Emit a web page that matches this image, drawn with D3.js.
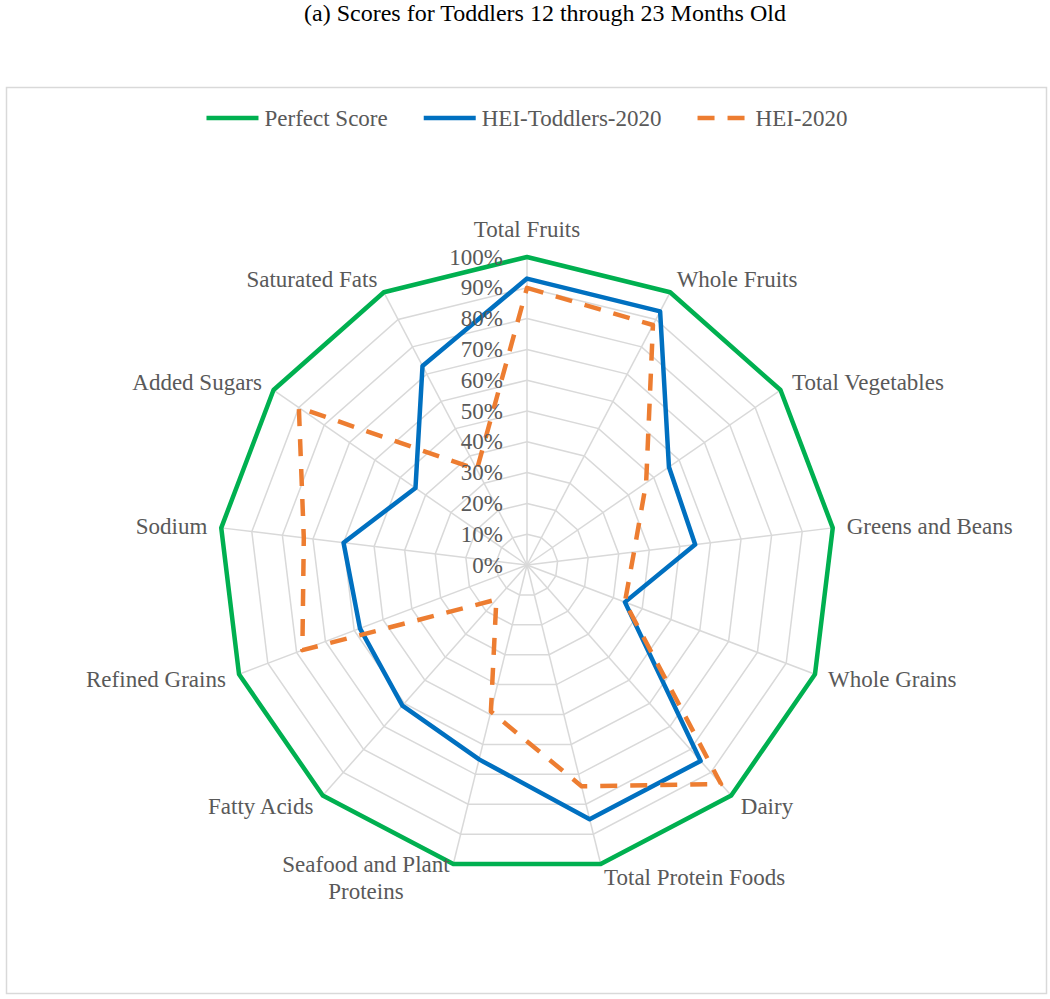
<!DOCTYPE html>
<html>
<head>
<meta charset="utf-8">
<script src="https://cdn.jsdelivr.net/npm/d3@7"></script>
<style>
  body { margin: 0; background: #fff; }
</style>
</head>
<body>
<script>
'use strict';

// categories, clockwise from the top
var categories = ['Total Fruits', 'Whole Fruits', 'Total Vegetables', 'Greens and Beans',
    'Whole Grains', 'Dairy', 'Total Protein Foods', 'Seafood and Plant Proteins',
    'Fatty Acids', 'Refined Grains', 'Sodium', 'Added Sugars', 'Saturated Fats'];

// scores in percent of the maximum
var perfectScore = [100, 100, 100, 100, 100, 100, 100, 100, 100, 100, 100, 100, 100];
var heiToddlers = [93, 93, 56, 55, 34, 85, 85, 65, 61, 58, 60, 44, 73];
var hei2020 = [90, 88, 47, 35, 34, 95, 74, 49, 15, 78, 73, 90, 35];

var tickValues = [0, 10, 20, 30, 40, 50, 60, 70, 80, 90, 100];
var seriesNames = ['Perfect Score', 'HEI-Toddlers-2020', 'HEI-2020'];

(function() {
    var width = 1050;
    var height = 999;
    var cx = 527, cy = 565, radius = 308;
    var textColor = '#595959';
    var svg = '';

    window.onload = function() {
        svg = d3.select('body')
                .append('svg')
                .attr('width', width)
                .attr('height', height);
        makeChart();
    }

    function label(sel) {
        return sel.attr('font-family', 'Liberation Serif')
                  .attr('font-size', 23)
                  .attr('fill', textColor);
    }

    function makeChart() {
        svg.append('text')
            .attr('x', 545)
            .attr('y', 21)
            .attr('text-anchor', 'middle')
            .attr('font-family', 'Liberation Serif')
            .attr('font-size', 24)
            .attr('fill', '#000')
            .text('(a)  Scores for Toddlers 12 through 23 Months Old');

        svg.append('rect')
            .attr('x', 6.5)
            .attr('y', 87.5)
            .attr('width', 1040)
            .attr('height', 906)
            .attr('fill', 'none')
            .attr('stroke', '#d9d9d9')
            .attr('stroke-width', 1.5);

        var r = d3.scaleLinear().domain([0, 100]).range([0, radius]);
        var angle = d3.scaleLinear().domain([0, categories.length]).range([0, 2 * Math.PI]);

        var g = svg.append('g').attr('transform', 'translate(' + cx + ',' + cy + ')');

        var ring = d3.lineRadial()
            .angle((d, i) => angle(i))
            .radius((d) => r(d))
            .curve(d3.curveLinearClosed);

        // grid rings
        g.selectAll('.ring')
            .data(tickValues.slice(1))
            .enter()
            .append('path')
            .attr('class', 'ring')
            .attr('d', (t) => ring(categories.map(() => t)))
            .attr('fill', 'none')
            .attr('stroke', '#d9d9d9')
            .attr('stroke-width', 1.5);

        // spokes
        g.selectAll('.spoke')
            .data(categories)
            .enter()
            .append('line')
            .attr('class', 'spoke')
            .attr('x1', 0).attr('y1', 0)
            .attr('x2', (d, i) => r(100) * Math.sin(angle(i)))
            .attr('y2', (d, i) => -r(100) * Math.cos(angle(i)))
            .attr('stroke', '#d9d9d9')
            .attr('stroke-width', 1.5);

        var series = [
            { name: seriesNames[0], values: perfectScore, color: '#00B050', dash: null },
            { name: seriesNames[1], values: heiToddlers, color: '#0070C0', dash: null },
            { name: seriesNames[2], values: hei2020, color: '#ED7D31', dash: '17,13' }
        ];

        g.selectAll('.series')
            .data(series)
            .enter()
            .append('path')
            .attr('class', 'series')
            .attr('d', (s) => ring(s.values))
            .attr('fill', 'none')
            .attr('stroke', (s) => s.color)
            .attr('stroke-width', 4.5)
            .attr('stroke-linejoin', 'round')
            .attr('stroke-dasharray', (s) => s.dash);

        // tick labels along the top spoke
        g.selectAll('.tick')
            .data(tickValues)
            .enter()
            .append('text')
            .attr('class', 'tick')
            .attr('x', -24)
            .attr('y', (t) => -r(t))
            .attr('dy', '0.33em')
            .attr('text-anchor', 'end')
            .call(label)
            .text((t) => t + '%');

        // category labels
        var labelR = radius + 14;
        categories.forEach(function(name, i) {
            var a = angle(i);
            var s = Math.sin(a), c = Math.cos(a);
            var x = labelR * s;
            var y = -labelR * c;
            var anchor = s > 0.01 ? 'start' : (s < -0.01 ? 'end' : 'middle');
            if (anchor === 'middle') y -= 14;
            var lines = wrap(name, 200);
            var t = g.append('text')
                .attr('text-anchor', 'middle')
                .call(label);
            lines.forEach(function(line, k) {
                t.append('tspan')
                    .attr('x', 0)
                    .attr('y', y + (k - (lines.length - 1) / 2) * 27)
                    .attr('dy', '0.33em')
                    .text(line);
            });
            // align the block by its widest line
            var w = t.node().getBBox().width;
            var bx = anchor === 'start' ? x + w / 2 : (anchor === 'end' ? x - w / 2 : x);
            t.selectAll('tspan').attr('x', bx);
        });

        makeLegend(series);
    }

    function wrap(text, maxW) {
        var probe = svg.append('text').call(label);
        var words = text.split(' ');
        var lines = [];
        var cur = '';
        words.forEach(function(wd) {
            var test = cur ? cur + ' ' + wd : wd;
            probe.text(test);
            if (probe.node().getComputedTextLength() > maxW && cur) {
                lines.push(cur);
                cur = wd;
            } else {
                cur = test;
            }
        });
        lines.push(cur);
        probe.remove();
        return lines;
    }

    function makeLegend(series) {
        var lg = svg.append('g');
        var x = 0;
        series.forEach(function(s) {
            var item = lg.append('g').attr('transform', 'translate(' + x + ',0)');
            item.append('line')
                .attr('x1', 0).attr('x2', 52)
                .attr('y1', 0).attr('y2', 0)
                .attr('stroke', s.color)
                .attr('stroke-width', 4.5)
                .attr('stroke-dasharray', s.dash);
            var t = item.append('text')
                .attr('x', 58)
                .attr('dy', '0.33em')
                .call(label)
                .text(s.name);
            x += 58 + t.node().getComputedTextLength() + 36;
        });
        var total = x - 36;
        lg.attr('transform', 'translate(' + (cx - total / 2) + ',118)');
    }
})();
</script>
</body>
</html>
